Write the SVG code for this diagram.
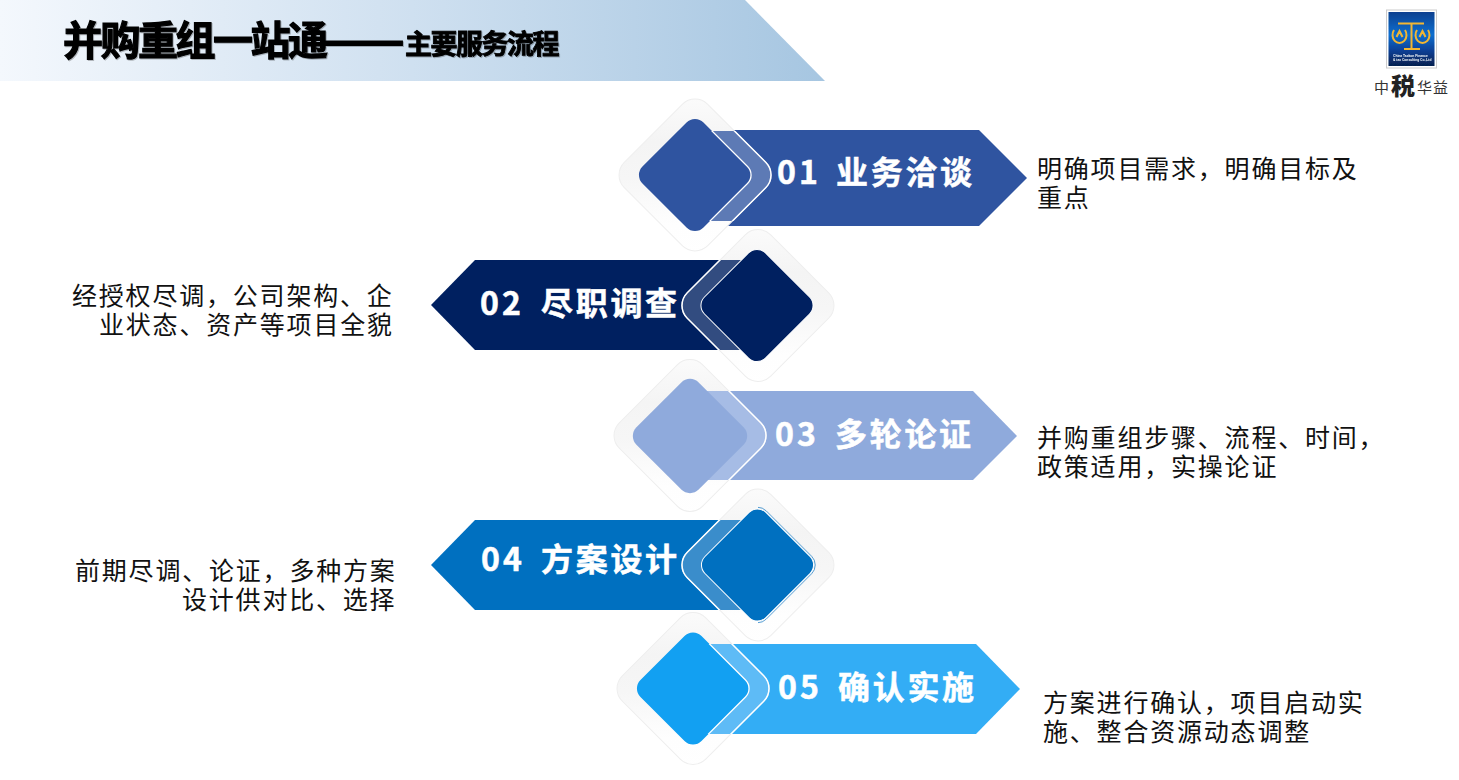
<svg xmlns="http://www.w3.org/2000/svg" width="1459" height="780" viewBox="0 0 1459 780">
<style>
text{font-family:"Noto Sans CJK SC","Noto Sans",sans-serif}
.lab{font-size:32px;font-weight:700;fill:#fff;stroke:#fff;stroke-width:0.5px;letter-spacing:2.7px}
.num{letter-spacing:3px}
.desc{font-size:25px;font-weight:400;fill:#111;letter-spacing:1.8px}
.band{stroke:#fff;stroke-width:1.5}
.inner{stroke:#fff;stroke-width:1}
.edge{fill:none;stroke:#fff;stroke-width:1.3}
.title{fill:#000;stroke:#000;font-weight:700;filter:url(#sh)}
</style>
<defs>
<linearGradient id="hd" x1="0" x2="1" y1="0" y2="0"><stop offset="0" stop-color="#f4f8fd"/><stop offset="0.5" stop-color="#cfe0f0"/><stop offset="1" stop-color="#a6c6e1"/></linearGradient>
<linearGradient id="halo" x1="0" y1="0" x2="1" y2="1"><stop offset="0" stop-color="#fcfcfc"/><stop offset="0.3" stop-color="#f4f4f4"/><stop offset="0.52" stop-color="#f6f6f6"/><stop offset="0.8" stop-color="#fefefe"/><stop offset="1" stop-color="#fff"/></linearGradient>
<linearGradient id="lg" x1="0" y1="0" x2="0" y2="1"><stop offset="0" stop-color="#08408f"/><stop offset="0.42" stop-color="#0f6fd0"/><stop offset="0.72" stop-color="#0a3f94"/><stop offset="1" stop-color="#06204f"/></linearGradient>
<filter id="sh" x="-5%" y="-20%" width="110%" height="140%"><feDropShadow dx="1" dy="1" stdDeviation="0.5" flood-color="#000" flood-opacity="0.25"/></filter>
<filter id="bl"><feGaussianBlur stdDeviation="0.35"/></filter>
<rect id="o" x="-59" y="-59" width="118" height="118" rx="18" transform="rotate(45)"/>
<rect id="i" x="-43.150" y="-43.150" width="86.300" height="86.300" rx="12" transform="rotate(45)"/>
<clipPath id="c1"><rect x="695" y="131" width="200" height="90"/></clipPath>
<clipPath id="c2"><rect x="600" y="260" width="158" height="90"/></clipPath>
<clipPath id="c3"><rect x="690" y="391" width="200" height="89"/></clipPath>
<clipPath id="c4"><rect x="600" y="520" width="158" height="90"/></clipPath>
<clipPath id="c5"><rect x="693" y="644" width="200" height="90"/></clipPath>
<clipPath id="c6"><rect x="758" y="500" width="80" height="130"/></clipPath>
</defs>
<g id="header">
<polygon points="0,0 745,0 825,81 0,81" fill="url(#hd)"/>
<text class="title" x="63" y="55" font-size="40" stroke-width="1.2" letter-spacing="-2.5">并购重组一站通<tspan x="323" y="57" font-size="48" letter-spacing="-7">——</tspan><tspan x="405" y="54" font-size="27" stroke-width="0.9" letter-spacing="-1.5">主要服务流程</tspan></text>
</g>
<g id="logo">
<rect x="1386.5" y="10" width="50" height="58" fill="#fff" stroke="#ccc" stroke-width="1"/>
<g filter="url(#bl)">
<rect x="1388.5" y="12" width="46" height="54" fill="url(#lg)"/>
<g fill="none" stroke="#f2b632" stroke-width="2">
<path d="M1398 23.500H1424M1411.500 23.500V48M1404 49H1420"/>
<path d="M1394 30a7 8 0 1 0 11 0M1396.500 37l3-6 3 6"/>
<path d="M1417 30a7 8 0 1 0 11 0M1419.500 37l3-6 3 6"/>
</g>
<text x="1393" y="57" font-size="3.3" font-weight="700" fill="#fff" style="font-family:'Liberation Sans',sans-serif">China Taxkon Finance</text>
<text x="1393" y="61" font-size="3.300" font-weight="700" fill="#fff" style="font-family:'Liberation Sans',sans-serif">&amp; tax Consulting Co.,Ltd</text>
</g>
<text x="1374" y="93" font-size="15" fill="#333">中<tspan x="1391" font-size="24" font-weight="900" fill="#222" y="95">税</tspan><tspan x="1417" y="93" letter-spacing="1">华益</tspan></text>
</g>
<g id="node-1">
<polygon points="700,130 979,130 1027,178 979,226 700,226" fill="#2f54a0"/>
<use href="#o" x="695" y="175" fill="url(#halo)" stroke="#eee"/>
<g clip-path="url(#c1)"><use href="#o" x="695" y="175" fill="#5d7ab5" class="band"/></g>
<use href="#i" x="695" y="175" fill="#2f54a0"/>
<g clip-path="url(#c1)"><use href="#i" x="695" y="175" class="edge"/></g>
<text class="lab" x="777" y="184"><tspan class="num">01 </tspan><tspan x="836">业务洽谈</tspan></text>
<text class="desc" x="1037" y="178">明确项目需求，明确目标及<tspan x="1037" y="207">重点</tspan></text>
</g>
<g id="node-2">
<polygon points="431,305 475,260 760,260 760,350 475,350" fill="#002060"/>
<use href="#o" x="758" y="305.500" fill="url(#halo)" stroke="#eee"/>
<g clip-path="url(#c2)"><use href="#o" x="758" y="305.500" fill="#324c80" class="band"/></g>
<use href="#i" x="757" y="305.500" fill="#002060" class="inner"/>
<text class="lab" x="480" y="315"><tspan class="num">02 </tspan><tspan x="541">尽职调查</tspan></text>
<text class="desc" x="72" y="305">经授权尽调，公司架构、企<tspan x="99" y="334">业状态、资产等项目全貌</tspan></text>
</g>
<g id="node-3">
<polygon points="695,391 973,391 1017,436 973,480 695,480" fill="#8faadc"/>
<use href="#o" x="690" y="435.500" fill="url(#halo)" stroke="#eee"/>
<g clip-path="url(#c3)"><use href="#o" x="690" y="435.500" fill="#a6bce5" class="band"/></g>
<use href="#i" transform="translate(690 436) scale(1.02)" fill="#8faadc"/>
<text class="lab" x="775" y="446"><tspan class="num">03 </tspan><tspan x="835">多轮论证</tspan></text>
<text class="desc" x="1037" y="447">并购重组步骤、流程、时间，<tspan x="1037" y="476">政策适用，实操论证</tspan></text>
</g>
<g id="node-4">
<polygon points="431,565 475,520 760,520 760,610 475,610" fill="#0070c0"/>
<use href="#o" x="758" y="565" fill="url(#halo)" stroke="#eee"/>
<g clip-path="url(#c4)"><use href="#o" x="758" y="565" fill="#3a8dcb" class="band"/></g>
<g clip-path="url(#c6)"><use href="#i" transform="translate(757.500 565) scale(1.03)" fill="none" stroke="#3a8dcb" stroke-width="0.8"/></g>
<use href="#i" x="757.500" y="565" fill="#0070c0" class="inner"/>
<text class="lab" x="481" y="571"><tspan class="num">04 </tspan><tspan x="541">方案设计</tspan></text>
<text class="desc" x="75" y="580">前期尽调、论证，多种方案<tspan x="182" y="609">设计供对比、选择</tspan></text>
</g>
<g id="node-5">
<polygon points="698,644 976,644 1020,689 976,734 698,734" fill="#33adf5"/>
<use href="#o" x="693" y="688.500" fill="url(#halo)" stroke="#eee"/>
<g clip-path="url(#c5)"><use href="#o" x="693" y="688.500" fill="#5ebbf6" class="band"/></g>
<use href="#i" x="693" y="688.500" fill="#12a0f2"/>
<g clip-path="url(#c5)"><use href="#i" x="693" y="688.500" class="edge"/></g>
<text class="lab" x="778" y="699"><tspan class="num">05 </tspan><tspan x="838">确认实施</tspan></text>
<text class="desc" x="1043" y="712">方案进行确认，项目启动实<tspan x="1043" y="741">施、整合资源动态调整</tspan></text>
</g>
</svg>
